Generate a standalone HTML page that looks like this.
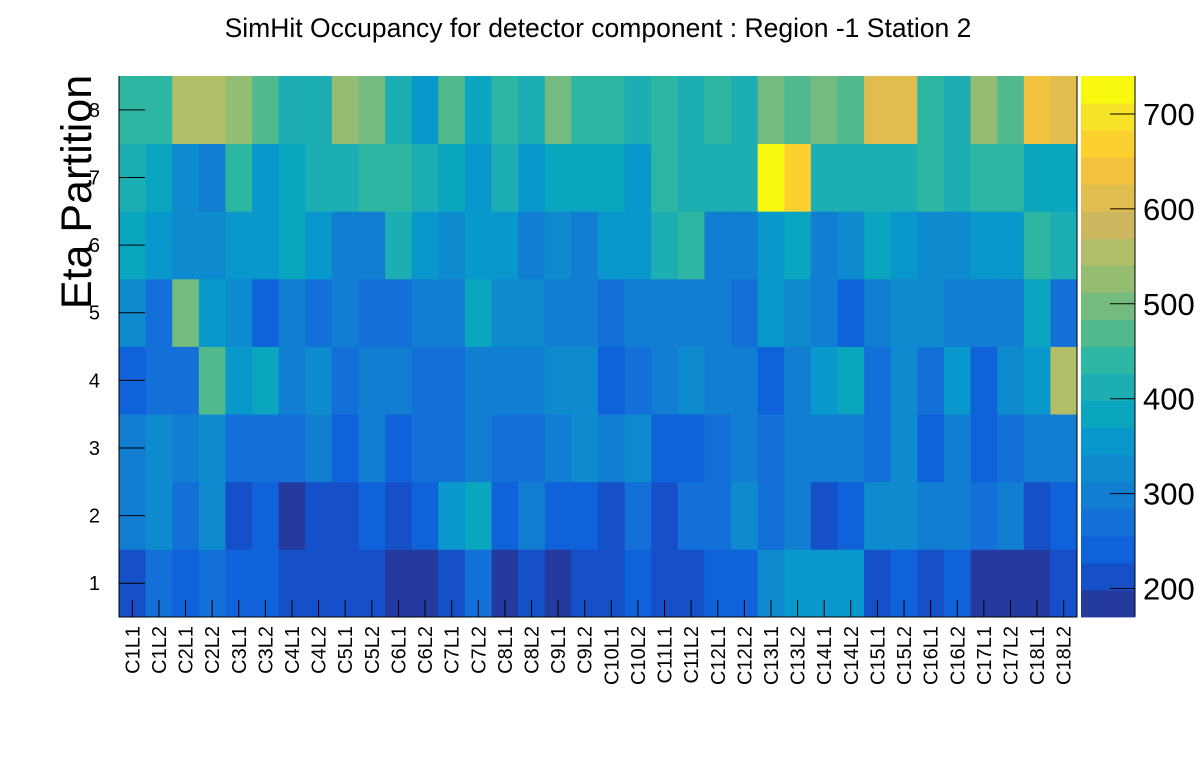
<!DOCTYPE html>
<html><head><meta charset="utf-8"><style>
body{margin:0;background:#fff}
svg{display:block;font-family:"Liberation Sans",sans-serif}
</style></head><body>
<svg id="chart" width="1196" height="772" xmlns="http://www.w3.org/2000/svg">
<rect width="1196" height="772" fill="#fff"/>
<text x="598" y="37" font-size="26.5" text-anchor="middle">SimHit Occupancy for detector component : Region -1 Station 2</text>
<text transform="translate(91,192) rotate(-90)" font-size="43" text-anchor="middle">Eta Partition</text>
<g id="cells"></g>
<g id="axes"></g>
<g id="cbar"></g>
</svg>
<script>
const categories = [];
for (let c = 1; c <= 18; c++) { categories.push('C' + c + 'L1'); categories.push('C' + c + 'L2'); }
const etaLabels = ['1','2','3','4','5','6','7','8'];
const colorTicks = [200,300,400,500,600,700];
// rows: eta 1 .. eta 8
const eta1 = [213,270,241,270,241,241,213,213,213,213,184,184,213,270,184,213,184,213, 213,241,213,213,241,241,327,355,355,355,213,241,213,241,184,184,184,213];
const eta2 = [298,327,270,327,213,241,184,213,213,241,213,241,355,384,241,298,241,241, 213,270,213,270,270,327,270,298,213,241,327,327,298,298,270,298,213,241];
const eta3 = [298,327,298,327,270,270,270,298,241,298,241,270,270,298,270,270,298,327, 298,327,241,241,270,298,270,298,298,298,270,327,241,298,241,270,298,298];
const eta4 = [241,270,270,469,355,384,298,327,270,298,298,270,270,298,298,298,327,327, 241,270,298,327,298,298,241,298,355,384,270,327,270,355,241,327,355,555];
const eta5 = [327,270,498,355,327,241,298,270,298,270,270,298,298,384,327,327,298,298, 270,298,298,298,298,270,355,327,298,241,298,327,327,298,298,298,384,270];
const eta6 = [384,355,327,327,355,355,384,355,298,298,412,355,327,355,355,298,327,298, 355,355,412,441,298,298,355,384,298,327,384,355,327,327,355,355,441,412];
const eta7 = [412,384,327,298,441,355,384,412,412,441,441,412,384,355,412,355,384,384, 384,355,441,412,412,412,726,669,412,412,412,412,441,412,441,441,384,384];
const eta8 = [441,441,555,555,526,469,412,412,526,498,412,355,469,384,441,412,498,441, 441,412,441,412,441,412,498,469,498,469,612,612,441,412,526,469,640,612];
const rows = [eta1,eta2,eta3,eta4,eta5,eta6,eta7,eta8];

const palette = ['#253A9E','#1550C8','#1062DA','#1270D8','#127ED2','#0E8ACE','#0898CC','#0AA6C0','#1CAEB3','#2DB6A1','#51B98E','#74BB80','#95BD72','#B2BD67','#CEB65E','#E1BC4E','#F2C13E','#FCD02F','#F6E226','#F9F90F'];
const X0 = 119, X1 = 1077, Y0 = 76, Y1 = 617;
const ZMIN = 170, ZMAX = 740;
const NS = 'http://www.w3.org/2000/svg';
const xScale = i => X0 + (X1 - X0) * i / categories.length;
const yScale = r => Y1 - (Y1 - Y0) * r / etaLabels.length;
const zColor = v => { let k = Math.floor((v - ZMIN) / (ZMAX - ZMIN) * palette.length); k = Math.max(0, Math.min(palette.length - 1, k)); return palette[k]; };
const zY = v => Y1 - (v - ZMIN) / (ZMAX - ZMIN) * (Y1 - Y0);
function mk(tag, attrs, parent) { const e = document.createElementNS(NS, tag); for (const k in attrs) e.setAttribute(k, attrs[k]); parent.appendChild(e); return e; }

const cells = document.getElementById('cells');
rows.forEach((row, r) => row.forEach((v, i) => {
  const x = xScale(i), y = yScale(r + 1);
  const el = mk('rect', {x: x, y: y, width: xScale(i + 1) - x + 0.4, height: yScale(r) - y + 0.4, fill: zColor(v)}, cells);
  
  
}));

const axes = document.getElementById('axes');
const frame = mk('path', {d: 'M' + X0 + ' ' + Y0 + 'V' + Y1 + 'H' + X1 + 'V' + Y0, fill: 'none', stroke: '#000', 'stroke-width': 1}, axes);


categories.forEach((c, i) => {
  const xc = (xScale(i) + xScale(i + 1)) / 2;
  mk('line', {x1: xc, x2: xc, y1: Y1, y2: Y1 - 17, stroke: '#000'}, axes);
  const t = mk('text', {transform: 'translate(' + (xc + 7) + ',626) rotate(-90)', 'font-size': 20, 'text-anchor': 'end'}, axes);
  t.textContent = c;
  
  
});
etaLabels.forEach((l, r) => {
  const yc = (yScale(r) + yScale(r + 1)) / 2;
  mk('line', {x1: X0, x2: X0 + 26, y1: yc, y2: yc, stroke: '#000'}, axes);
  const t = mk('text', {x: 100, y: yc + 7, 'font-size': 20, 'text-anchor': 'end'}, axes);
  t.textContent = l;
  
  
});

const cbar = document.getElementById('cbar');
const CX0 = 1081, CX1 = 1135;
palette.forEach((col, k) => {
  const y1 = Y1 - (Y1 - Y0) * (k + 1) / palette.length, y0 = Y1 - (Y1 - Y0) * k / palette.length;
  const b = mk('rect', {x: CX0, y: y1, width: CX1 - CX0, height: y0 - y1 + 0.4, fill: col}, cbar);
  
  
});
mk('line', {x1: CX1, x2: CX1, y1: Y0, y2: Y1, stroke: '#000'}, cbar);
colorTicks.forEach(v => {
  const y = zY(v);
  mk('line', {x1: CX1 - 25, x2: CX1, y1: y, y2: y, stroke: '#000'}, cbar);
  const t = mk('text', {x: 1143, y: y + 11, 'font-size': 31}, cbar);
  t.textContent = v;
  
  
});
</script>
</body></html>
